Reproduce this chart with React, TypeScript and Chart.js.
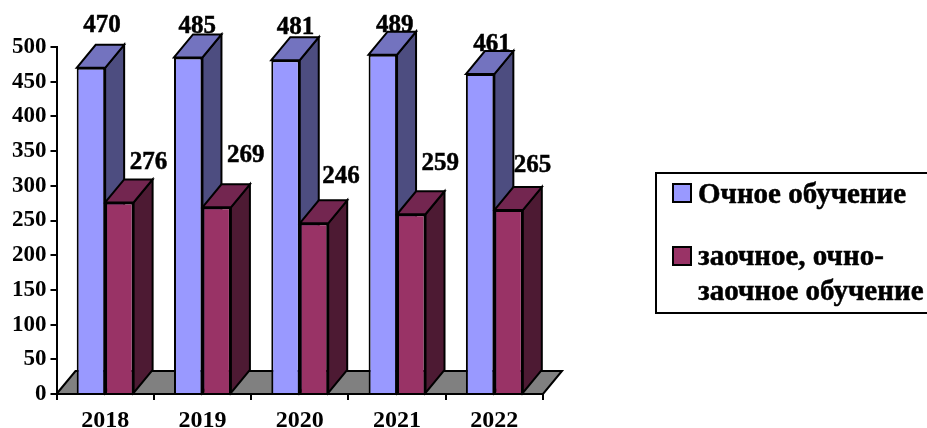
import React, { useEffect, useRef } from "react";
import { Chart, registerables } from "chart.js";

Chart.register(...registerables);

const categories = ["2018", "2019", "2020", "2021", "2022"];
const fullTime = [470, 485, 481, 489, 461];
const partTime = [276, 269, 246, 259, 265];
const fullTimeLabel = "Очное обучение";
const partTimeLabelLines = ["заочное, очно-", "заочное обучение"];

const SERIF = '"Liberation Serif", "Times New Roman", serif';
const DEPTH_X = 19;
const DEPTH_Y = 23;
const INK = "#000000";
const faces = [
  { front: "#9999FF", side: "#4D4D80", top: "#7373BF" },
  { front: "#993366", side: "#4D1A33", top: "#732650" },
];
// label nudges (px) relative to the top-back edge of each bar
const labelNudges = [
  [[11, -19], [9, -8], [10, -10], [12, -6], [12, -7]],
  [[29, -17], [29, -29], [27, -24], [29, -28], [24, -22]],
];

function poly(ctx: CanvasRenderingContext2D, pts: number[][], fill: string, lw = 2) {
  ctx.beginPath();
  pts.forEach(([x, y], i) => (i ? ctx.lineTo(x, y) : ctx.moveTo(x, y)));
  ctx.closePath();
  ctx.fillStyle = fill;
  ctx.fill();
  ctx.lineWidth = lw;
  ctx.strokeStyle = INK;
  ctx.lineJoin = "miter";
  ctx.stroke();
}

function heavyText(ctx: CanvasRenderingContext2D, s: string, x: number, y: number) {
  ctx.lineWidth = 0.5;
  ctx.strokeStyle = INK;
  ctx.strokeText(s, x, y);
  ctx.fillText(s, x, y);
}

const bars3d = {
  id: "bars3d",
  beforeDatasetsDraw(chart: any) {
    const ctx = chart.ctx;
    const { left, right, bottom } = chart.chartArea;
    ctx.save();
    poly(ctx, [
      [left, bottom],
      [left + DEPTH_X, bottom - DEPTH_Y],
      [right + DEPTH_X, bottom - DEPTH_Y],
      [right, bottom],
    ], "#808080");
    categories.forEach((_, i) => {
      [0, 1].forEach((d) => {
        const el = chart.getDatasetMeta(d).data[i];
        const l = el.x - el.width / 2;
        const r = el.x + el.width / 2;
        const t = el.y;
        const b = el.base;
        poly(ctx, [[r, t], [r + DEPTH_X, t - DEPTH_Y], [r + DEPTH_X, b - DEPTH_Y], [r, b]], faces[d].side);
        poly(ctx, [[l, t], [l + DEPTH_X, t - DEPTH_Y], [r + DEPTH_X, t - DEPTH_Y], [r, t]], faces[d].top);
      });
    });
    ctx.restore();
  },
  afterDatasetsDraw(chart: any) {
    const ctx = chart.ctx;
    ctx.save();
    ctx.font = `bold 25px ${SERIF}`;
    ctx.fillStyle = INK;
    ctx.textAlign = "center";
    ctx.textBaseline = "middle";
    [0, 1].forEach((d) => {
      chart.getDatasetMeta(d).data.forEach((el: any, i: number) => {
        const [nx, ny] = labelNudges[d][i];
        const value = chart.data.datasets[d].data[i];
        heavyText(ctx, String(value), el.x + nx, el.y - DEPTH_Y + ny);
      });
    });
    ctx.restore();
  },
  afterDraw(chart: any) {
    const ctx = chart.ctx;
    ctx.save();
    ctx.strokeStyle = INK;
    ctx.lineWidth = 2;
    ctx.strokeRect(656, 173, 290, 140);
    ctx.font = `bold 29px ${SERIF}`;
    ctx.fillStyle = INK;
    ctx.textAlign = "left";
    ctx.textBaseline = "alphabetic";
    heavyText(ctx, fullTimeLabel, 698, 203);
    heavyText(ctx, partTimeLabelLines[0], 698, 265);
    heavyText(ctx, partTimeLabelLines[1], 698, 300);
    ctx.lineWidth = 2;
    ctx.strokeStyle = INK;
    ctx.fillStyle = faces[0].front;
    ctx.fillRect(673, 184, 18, 18);
    ctx.strokeRect(673, 184, 18, 18);
    ctx.fillStyle = faces[1].front;
    ctx.fillRect(673, 247, 18, 18);
    ctx.strokeRect(673, 247, 18, 18);
    ctx.restore();
  },
};

export default function App() {
  const ref = useRef<HTMLCanvasElement>(null);
  useEffect(() => {
    const chart = new Chart(ref.current as HTMLCanvasElement, {
      type: "bar",
      data: {
        labels: categories,
        datasets: [
          {
            label: fullTimeLabel,
            data: fullTime,
            backgroundColor: faces[0].front,
            borderColor: INK,
            borderWidth: 2,
          },
          {
            label: partTimeLabelLines.join(" "),
            data: partTime,
            backgroundColor: faces[1].front,
            borderColor: INK,
            borderWidth: 2,
          },
        ],
      },
      options: {
        responsive: false,
        animation: false,
        devicePixelRatio: 1,
        layout: { padding: { top: 47, right: 384, left: 0, bottom: 0 } },
        plugins: { legend: { display: false }, tooltip: { enabled: false }, title: { display: false } },
        datasets: { bar: { barPercentage: 1, categoryPercentage: 0.585 } },
        scales: {
          x: {
            afterFit: (s: any) => {
              s.height = 34;
            },
            grid: { drawOnChartArea: false, drawTicks: true, tickLength: 6, color: INK, lineWidth: 2 },
            border: { color: INK, width: 2 },
            ticks: {
              color: INK,
              padding: 6,
              maxRotation: 0,
              font: { family: SERIF, size: 24, weight: "bold" },
            },
          },
          y: {
            min: 0,
            max: 500,
            afterFit: (s: any) => {
              s.width = 56.5;
            },
            grid: { drawOnChartArea: false, drawTicks: true, tickLength: 6, color: INK, lineWidth: 2 },
            border: { color: INK, width: 2 },
            ticks: {
              stepSize: 50,
              color: INK,
              padding: 4,
              font: { family: SERIF, size: 23, weight: "bold" },
            },
          },
        },
      },
      plugins: [bars3d],
    } as any);
    return () => chart.destroy();
  }, []);
  return (
    <div style={{ position: "fixed", left: 0, top: 0, width: 927, height: 428, background: "#fff", overflow: "hidden" }}>
      <canvas ref={ref} width={927} height={428} style={{ display: "block" }} />
    </div>
  );
}
